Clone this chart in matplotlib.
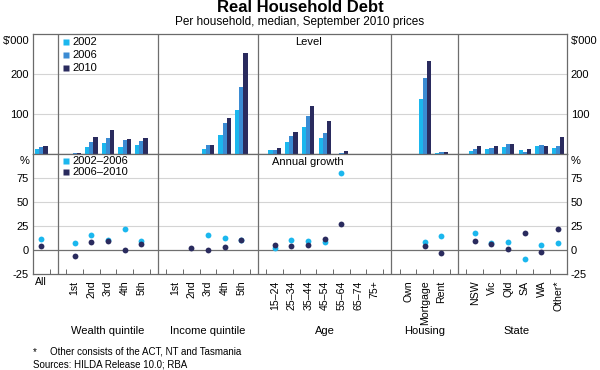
import numpy as np
import matplotlib
matplotlib.use("Agg")
import matplotlib.pyplot as plt
from matplotlib.transforms import blended_transform_factory

plt.rcParams['font.family'] = ['Liberation Sans', 'DejaVu Sans']

nan = np.nan
categories = ["All",
              "1st", "2nd", "3rd", "4th", "5th",
              "1st", "2nd", "3rd", "4th", "5th",
              "15–24", "25–34", "35–44", "45–54", "55–64", "65–74", "75+",
              "Own", "Mortgage", "Rent",
              "NSW", "Vic", "Qld", "SA", "WA", "Other*"]
group_names = ["", "Wealth quintile", "Income quintile", "Age", "Housing", "State"]
group_sizes = [1, 5, 5, 7, 3, 6]

level_2002 = [12, 1, 17, 28, 17, 22, 0, 1, 12, 47, 109, 10, 30, 67, 39, 0, 0, 0, 0, 137, 3, 7, 12, 17, 10, 19, 15]
level_2006 = [17, 2, 29, 41, 36, 32, 0, 1, 22, 77, 168, 11, 44, 94, 53, 2, 0, 0, 0, 191, 4, 12, 16, 24, 6, 22, 20]
level_2010 = [21, 2, 42, 61, 37, 40, 0, 1, 22, 91, 252, 14, 56, 120, 83, 7, 0, 0, 0, 232, 4, 19, 21, 25, 12, 21, 42]

growth_0206 = [11.5, 7.3, 15.6, 10, 21.5, 9.7, nan, nan, 15.6, 12.8, 10.4,
               1.7, 10.8, 9.7, 8.3, 80.5, nan, nan, nan, 8.3, 14.9,
               18, 7.6, 8, -9, 4.9, 7.6]
growth_0610 = [3.8, -5.9, 8.7, 9.7, 0, 5.9, nan, 2.1, 0.3, 3.5, 10.1,
               5.2, 4.5, 5.2, 11.5, 26.7, nan, nan, nan, 4.5, -3.5,
               9.4, 5.9, 1, 17.4, -2, 21.5]

c02 = '#1BB7EE'
c06 = '#3B8BD3'
c10 = '#2A2B5E'

# positions: one blank slot between groups
pos = []
seps = []
group_centers = []
x = 0
for gi, n in enumerate(group_sizes):
    if gi > 0:
        seps.append(x)
        x += 1
    start = x
    for k in range(n):
        pos.append(x)
        x += 1
    group_centers.append((start + x - 1) / 2)
nslots = x
pos = np.array(pos, dtype=float)

fig = plt.figure(figsize=(6, 3.7), dpi=100)
L, R = 33 / 600, 566.5 / 600
yt, ym, yb = 1 - 34 / 370, 1 - 154 / 370, 1 - 274 / 370
ax1 = fig.add_axes([L, ym, R - L, yt - ym])
ax2 = fig.add_axes([L, yb, R - L, ym - yb])

grid_c = '#d4d4d4'
sep_c = '#6e6e6e'
fs = 8
xfs = 7.6

w = 0.25
ax1.bar(pos - w, level_2002, w, color=c02, zorder=3)
ax1.bar(pos, level_2006, w, color=c06, zorder=3)
ax1.bar(pos + w, level_2010, w, color=c10, zorder=3)
ax1.set_ylim(0, 300)
ax1.set_yticks([100, 200])
for yv in [100, 200]:
    ax1.axhline(yv, color=grid_c, lw=0.8, zorder=1)

ms = 4.2
ax2.plot(pos, growth_0206, 'o', color=c02, ms=ms, mec='none', zorder=3)
ax2.plot(pos, growth_0610, 'o', color=c10, ms=ms, mec='none', zorder=4)
ax2.set_ylim(-25, 100)
ax2.set_yticks([-25, 0, 25, 50, 75])
ax2.set_yticklabels(['-25', '0', '25', '50', '75'])
for yv in [25, 50, 75]:
    ax2.axhline(yv, color=grid_c, lw=0.8, zorder=1)
ax2.axhline(0, color='#707070', lw=0.9, zorder=2)

for ax in (ax1, ax2):
    ax.set_xlim(-0.5, nslots - 0.5)
    for s in seps:
        ax.axvline(s, color=sep_c, lw=0.9, zorder=2)
    for sp in ax.spines.values():
        sp.set_color('#6a6a6a')
        sp.set_linewidth(0.9)
    ax.tick_params(axis='y', length=0, labelsize=fs, labelleft=True, labelright=True, pad=3)
    ax.set_facecolor('white')

ax1.set_xticks([])
ax2.set_xticks(pos)
ax2.set_xticklabels([])
ax2.tick_params(axis='x', length=0)
ax2.set_xticks(np.arange(0.5, nslots - 0.5, 1), minor=True)
ax2.tick_params(axis='x', which='minor', direction='in', length=3.5, width=0.7, color='#6a6a6a')

tr = blended_transform_factory(ax2.transData, ax2.transAxes)
for p, lab in zip(pos, categories):
    if lab == "All":
        ax2.text(p, -0.025, lab, transform=tr, ha='center', va='top', fontsize=xfs)
    else:
        ax2.text(p, -0.055, lab, transform=tr, ha='center', va='top', rotation=90, fontsize=xfs)

for gc, gn in zip(group_centers, group_names):
    if gn:
        fig.text(L + (gc + 0.5) / nslots * (R - L), 1 - 331 / 370, gn, ha='center', va='center', fontsize=fs)

# unit labels
for ax, lab in ((ax1, "$'000"), (ax2, "%")):
    ax.text(-0.006, 0.985, lab, transform=ax.transAxes, ha='right', va='top', fontsize=fs)
    ax.text(1.008, 0.985, lab, transform=ax.transAxes, ha='left', va='top', fontsize=fs)

ax1.text(pos[categories.index("45–54")] - 1, 0.93, "Level", transform=blended_transform_factory(ax1.transData, ax1.transAxes),
         ha='center', va='center', fontsize=fs)
ax2.text(pos[categories.index("45–54")] - 1, 0.93, "Annual growth", transform=blended_transform_factory(ax2.transData, ax2.transAxes),
         ha='center', va='center', fontsize=fs)

# legends
trl1 = blended_transform_factory(ax1.transData, ax1.transAxes)
lx = pos[1] - 0.55
for i, (lab, col) in enumerate(zip(["2002", "2006", "2010"], [c02, c06, c10])):
    yy = 0.93 - i * 0.105
    ax1.plot([lx], [yy], 's', color=col, ms=4.5, mec='none', transform=trl1, clip_on=False, zorder=5)
    ax1.text(lx + 0.4, yy, lab, transform=trl1, ha='left', va='center', fontsize=fs)
trl2 = blended_transform_factory(ax2.transData, ax2.transAxes)
for i, (lab, col) in enumerate(zip(["2002–2006", "2006–2010"], [c02, c10])):
    yy = 0.94 - i * 0.09
    ax2.plot([lx], [yy], 's', color=col, ms=4.5, mec='none', transform=trl2, clip_on=False, zorder=5)
    ax2.text(lx + 0.4, yy, lab, transform=trl2, ha='left', va='center', fontsize=fs)

fig.text(0.5, 1 - 8 / 370, "Real Household Debt", ha='center', va='center', fontsize=12, fontweight='bold')
fig.text(0.5, 1 - 21.5 / 370, "Per household, median, September 2010 prices", ha='center', va='center', fontsize=8.5)

fig.text(33 / 600, 1 - 352 / 370, "*", ha='left', va='center', fontsize=7)
fig.text(50 / 600, 1 - 352 / 370, "Other consists of the ACT, NT and Tasmania", ha='left', va='center', fontsize=7)
fig.text(33 / 600, 1 - 364.5 / 370, "Sources: HILDA Release 10.0; RBA", ha='left', va='center', fontsize=7)

fig.savefig("out.png", dpi=100)
